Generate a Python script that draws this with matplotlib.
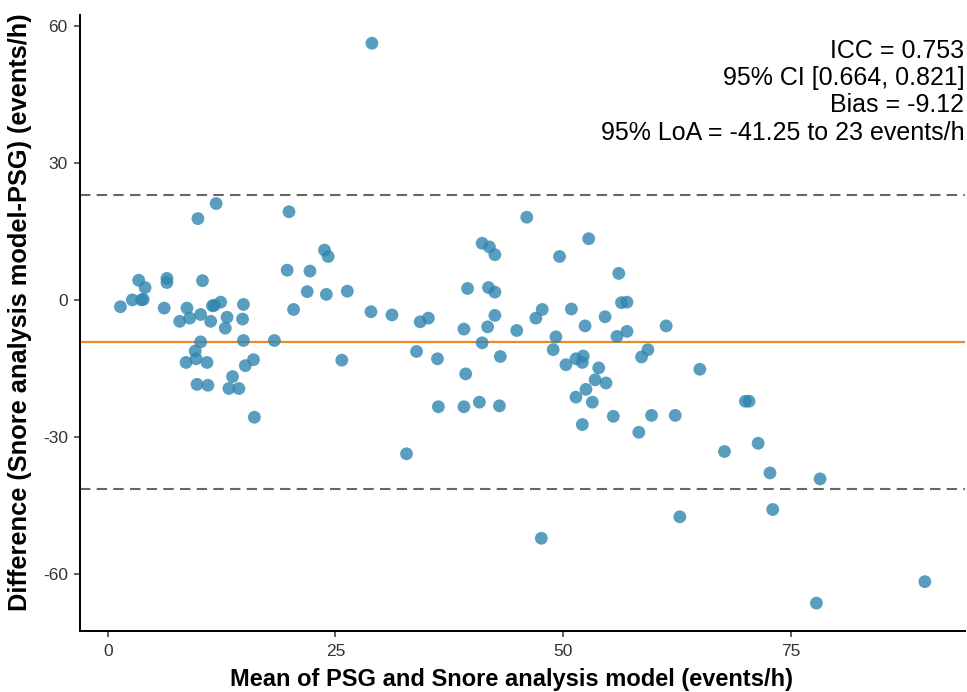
import matplotlib
matplotlib.use("Agg")
import matplotlib.pyplot as plt

plt.rcParams['font.family'] = ['Liberation Sans', 'DejaVu Sans']
plt.rcParams['axes.unicode_minus'] = False

# mean of the two methods (events/h)
mean_vals = [
    11.9, 9.9, 3.4, 4.1, 6.5, 6.5, 10.4, 1.4, 2.7, 3.7, 3.9, 6.2, 8.7, 7.9,
    9.0, 10.2, 11.3, 11.5, 11.7, 12.4, 13.1, 12.9, 14.9, 14.8, 14.9, 18.3,
    10.2, 9.6, 9.7, 8.6, 10.9, 16.0, 15.1, 13.7, 9.8, 11.0, 13.3, 14.4, 16.1,
    19.9, 23.8, 24.2, 19.7, 22.2, 21.9, 24.0, 26.3, 20.4, 25.7, 28.9, 31.2,
    34.3, 35.2, 33.9, 36.2, 36.3, 32.8, 29.0,
    46.0, 41.1, 41.9, 42.5, 52.8, 49.6, 56.1, 39.5, 41.8, 42.5, 42.5, 41.7,
    39.1, 44.9, 47.7, 47.0, 50.9, 54.6, 52.4, 49.2, 55.9, 41.1, 48.9, 43.1,
    50.3, 51.4, 52.2, 52.1, 53.9, 53.5, 54.7, 52.5, 51.4, 53.2, 39.3, 40.8,
    39.1, 43.0, 55.5, 52.1, 47.6,
    56.4, 57.0, 61.3, 57.0, 59.3, 58.6, 65.0, 59.7, 62.3, 58.3, 70.0, 70.4,
    67.7, 71.4, 72.7,
    78.2, 73.0, 77.8, 89.7, 62.8,
]

# difference model - PSG (events/h)
diff_vals = [
    21.2, 17.9, 4.4, 2.8, 4.8, 3.9, 4.3, -1.4, 0.1, 0.1, 0.2, -1.7, -1.7, -4.6,
    -3.9, -3.1, -4.6, -1.2, -1.1, -0.4, -3.7, -6.1, -0.9, -4.1, -8.8, -8.8,
    -9.1, -11.1, -12.8, -13.6, -13.6, -13.0, -14.3, -16.7, -18.4, -18.6, -19.3, -19.3, -25.6,
    19.4, 11.0, 9.6, 6.6, 6.4, 1.9, 1.3, 2.0, -2.0, -13.1, -2.5, -3.2,
    -4.7, -3.9, -11.2, -12.8, -23.3, -33.6, 56.3,
    18.2, 12.5, 11.7, 10.0, 13.5, 9.6, 5.9, 2.6, 2.8, 1.8, -3.3, -5.8,
    -6.3, -6.6, -2.0, -3.9, -1.9, -3.6, -5.6, -8.0, -7.9, -9.3, -10.8, -12.3,
    -14.1, -12.8, -12.2, -13.6, -14.8, -17.4, -18.1, -19.5, -21.2, -22.3, -16.1, -22.3,
    -23.3, -23.1, -25.4, -27.2, -52.1,
    -0.5, -0.4, -5.6, -6.8, -10.8, -12.4, -15.1, -25.2, -25.2, -28.9, -22.1, -22.1,
    -33.1, -31.3, -37.8,
    -39.1, -45.8, -66.3, -61.6, -47.4,
]

icc = 0.753
icc_ci = (0.664, 0.821)
bias = -9.12
loa_low = -41.25
loa_high = 23

fig = plt.figure(figsize=(9.67, 6.92), dpi=100)
ax = fig.add_axes([0.083, 0.088, 0.915, 0.89])

ax.scatter(mean_vals, diff_vals, s=85, color='#2f86b0', alpha=0.8,
           edgecolors='none', zorder=3)

ax.axhline(bias, color='#e8892c', lw=1.6, zorder=2)
ax.axhline(loa_high, color='#666666', lw=1.5, ls=(0, (5, 3)), zorder=2)
ax.axhline(loa_low, color='#666666', lw=1.5, ls=(0, (5, 3)), zorder=2)

ax.margins(x=0.05, y=0.05)
ax.set_xticks([0, 25, 50, 75])
ax.set_yticks([-60, -30, 0, 30, 60])

for s in ['top', 'right']:
    ax.spines[s].set_visible(False)
for s in ['left', 'bottom']:
    ax.spines[s].set_linewidth(1.4)
    ax.spines[s].set_color('black')
ax.tick_params(axis='both', length=4, width=1.1, color='#333333',
               labelsize=12.5, labelcolor='#333333', pad=5)

ax.set_xlabel("Mean of PSG and Snore analysis model (events/h)",
              fontsize=17, fontweight='bold')
ax.xaxis.set_label_coords(0.487, -0.06)
ax.set_ylabel("Difference (Snore analysis model-PSG) (events/h)",
              fontsize=18.3, fontweight='bold')
ax.yaxis.set_label_coords(-0.054, 0.518)

note = (f"ICC = {icc}\n"
        f"95% CI [{icc_ci[0]}, {icc_ci[1]}]\n"
        f"Bias = {bias}\n"
        f"95% LoA = {loa_low} to {loa_high} events/h")
ax.text(0.999, 0.962, note, transform=ax.transAxes, ha='right', va='top',
        fontsize=18, linespacing=1.18)

fig.savefig("out.png", dpi=100)
